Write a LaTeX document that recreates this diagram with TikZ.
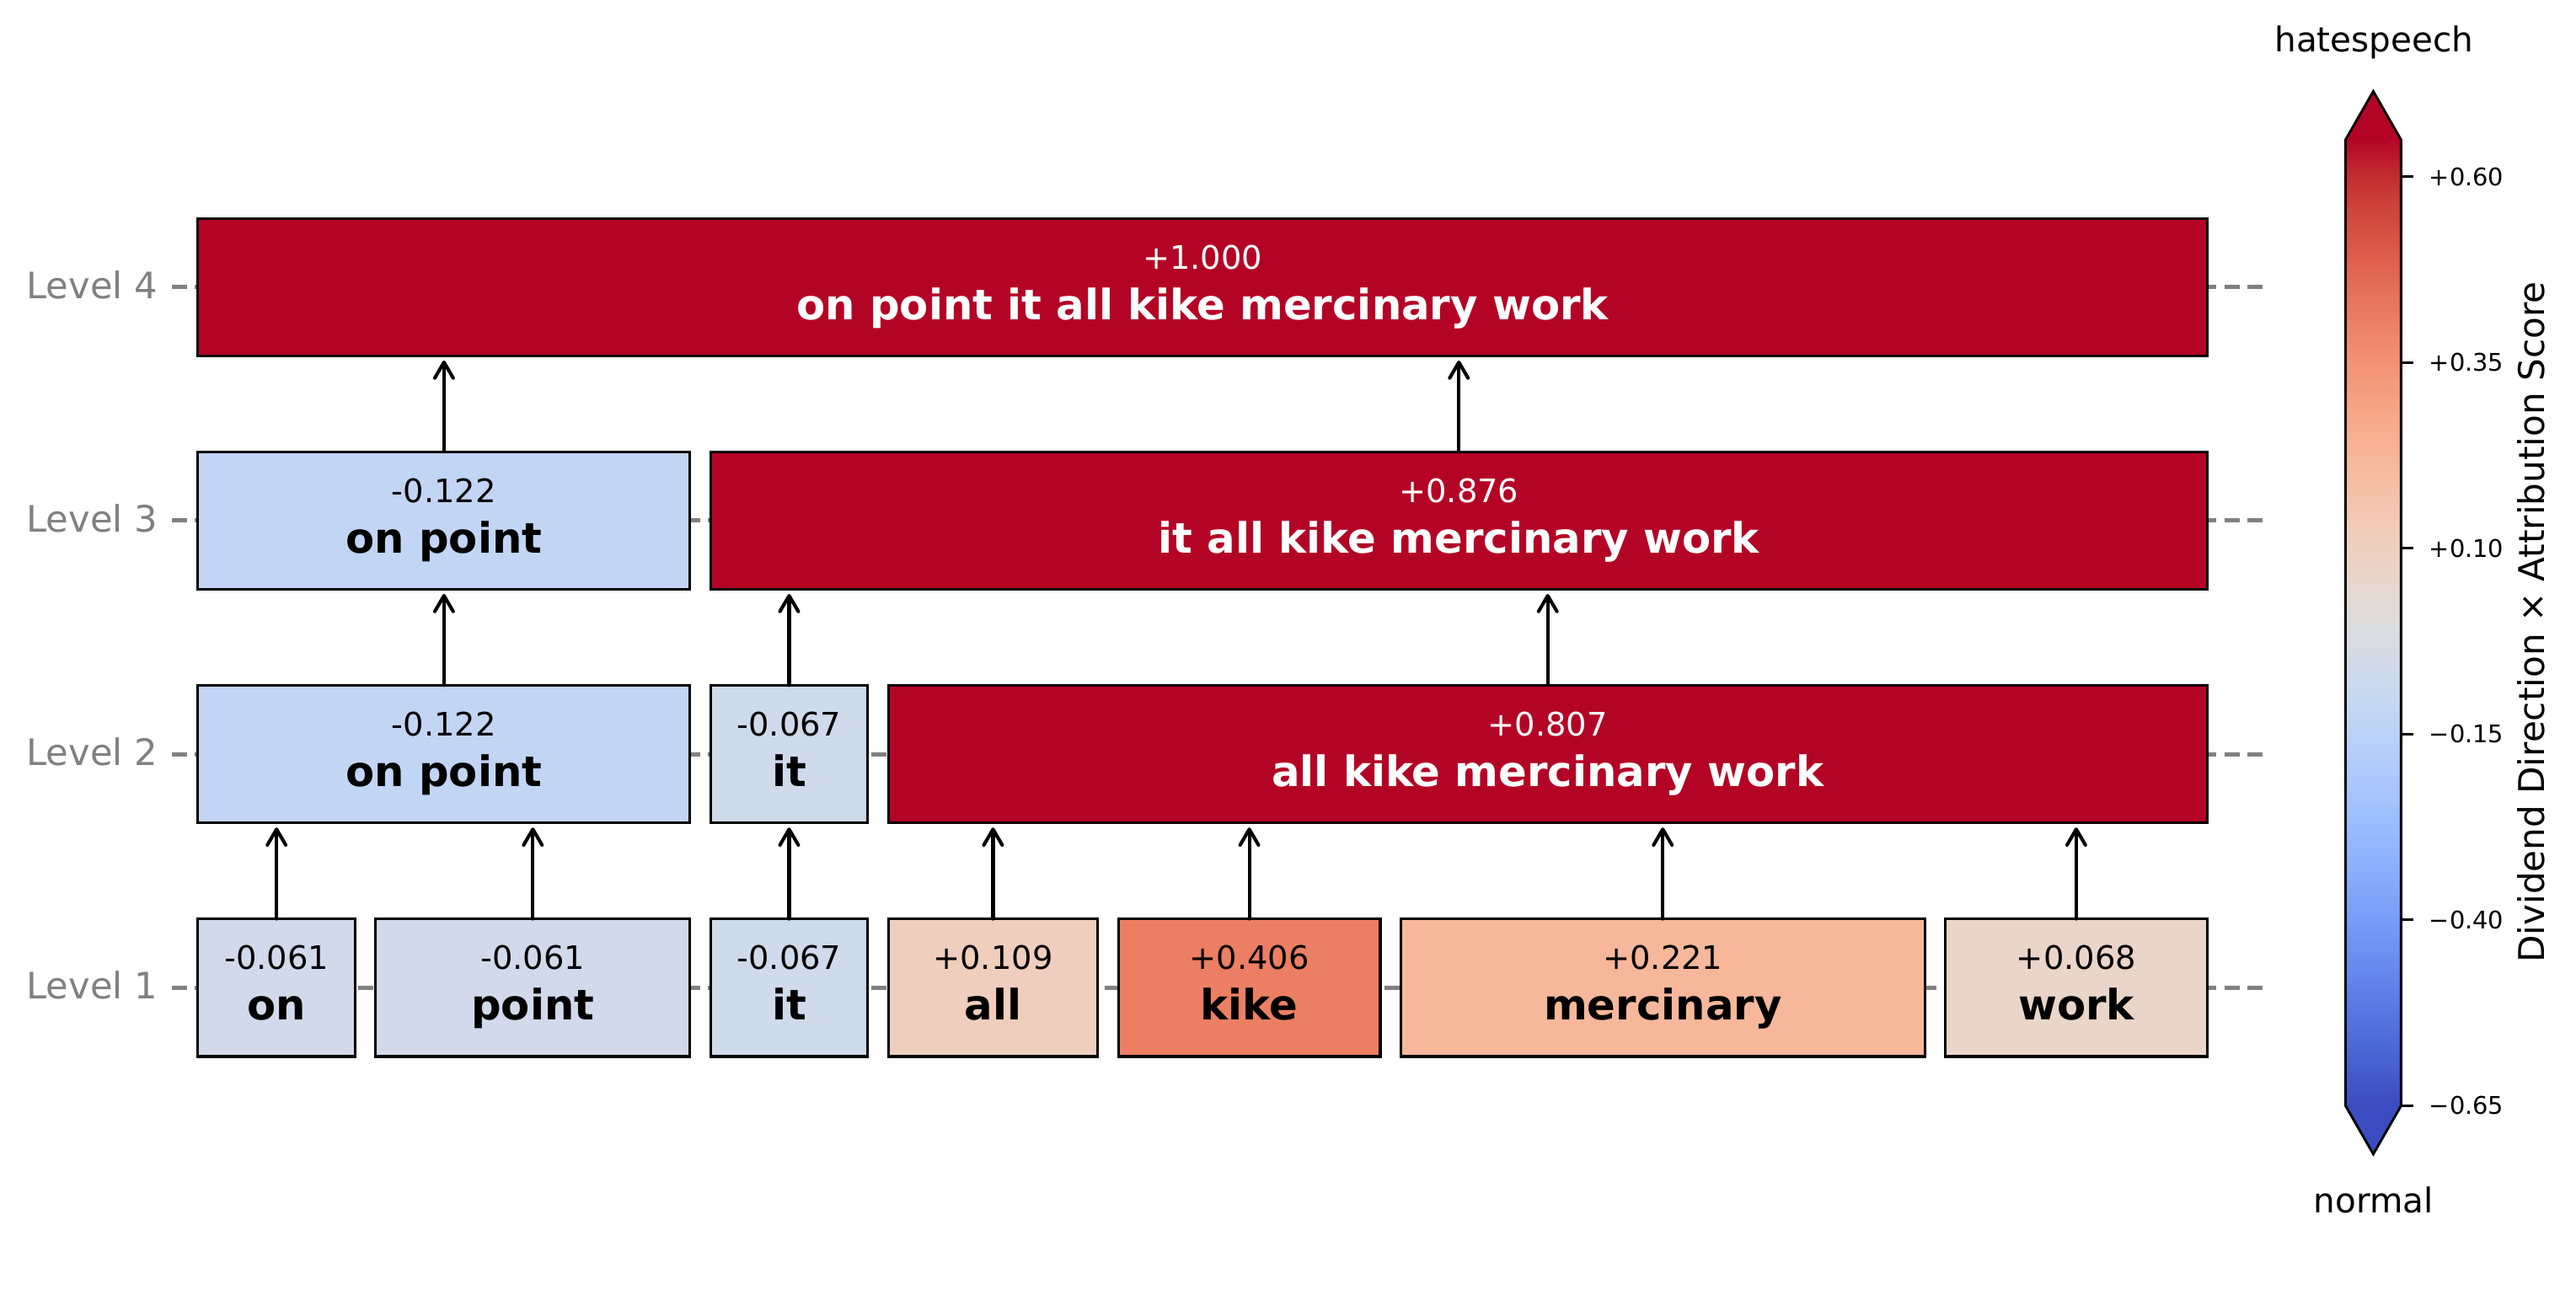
\documentclass[tikz,border=0pt]{standalone}
\usepackage{fontspec}
\setmainfont{DejaVu Sans}
\usetikzlibrary{arrows.meta,calc}

\definecolor{cred}{RGB}{180,4,38}
\definecolor{cA}{RGB}{208,218,234}
\definecolor{cB}{RGB}{207,218,235}
\definecolor{cC}{RGB}{194,213,244}
\definecolor{cD}{RGB}{239,206,189}
\definecolor{cE}{RGB}{236,127,99}
\definecolor{cF}{RGB}{247,183,155}
\definecolor{cG}{RGB}{234,213,201}
\definecolor{lvgray}{RGB}{128,128,128}
\definecolor{lngray}{RGB}{128,128,128}

\definecolor{cw0}{RGB}{59,76,192}
\definecolor{cw1}{RGB}{68,90,204}
\definecolor{cw2}{RGB}{77,104,215}
\definecolor{cw3}{RGB}{87,117,225}
\definecolor{cw4}{RGB}{98,130,234}
\definecolor{cw5}{RGB}{108,142,241}
\definecolor{cw6}{RGB}{119,154,247}
\definecolor{cw7}{RGB}{130,165,251}
\definecolor{cw8}{RGB}{141,176,254}
\definecolor{cw9}{RGB}{152,185,255}
\definecolor{cw10}{RGB}{163,194,255}
\definecolor{cw11}{RGB}{174,201,253}
\definecolor{cw12}{RGB}{184,208,249}
\definecolor{cw13}{RGB}{194,213,244}
\definecolor{cw14}{RGB}{204,217,238}
\definecolor{cw15}{RGB}{213,219,230}
\definecolor{cw16}{RGB}{221,221,221}
\definecolor{cw17}{RGB}{229,216,209}
\definecolor{cw18}{RGB}{236,211,197}
\definecolor{cw19}{RGB}{241,204,185}
\definecolor{cw20}{RGB}{245,196,173}
\definecolor{cw21}{RGB}{247,187,160}
\definecolor{cw22}{RGB}{247,177,148}
\definecolor{cw23}{RGB}{247,166,135}
\definecolor{cw24}{RGB}{244,154,123}
\definecolor{cw25}{RGB}{241,141,111}
\definecolor{cw26}{RGB}{236,127,99}
\definecolor{cw27}{RGB}{229,112,88}
\definecolor{cw28}{RGB}{222,96,77}
\definecolor{cw29}{RGB}{213,80,66}
\definecolor{cw30}{RGB}{203,62,56}
\definecolor{cw31}{RGB}{192,40,47}
\definecolor{cw32}{RGB}{180,4,38}

\newcommand{\tokbox}[8]{%
  \node[tok, fill=#5, minimum width={(#3-#2)*0.5pt}] (#1) at ({(#2+#3)/2},#4) {};
  \node[valtxt, text=#6] (#1-v) at ({(#2+#3)/2},{#4-11}) {#7};
  \node[wordtxt, text=#6] (#1-w) at ({(#2+#3)/2},{#4+19.8}) {#8};
}
\newcommand{\uparr}[2]{%
  \draw[arr] (#1.north) -- ($(#1.north |- #2.south)+(0,2.8)$);
}

\begin{document}
\begin{tikzpicture}[x=0.5pt,y=-0.5pt,
  tok/.style={draw=black, line width=0.8pt, inner sep=0pt, outer sep=0pt, minimum height=41.9pt},
  valtxt/.style={inner sep=0pt, anchor=base, font=\fontsize{9.85pt}{12pt}\selectfont},
  wordtxt/.style={inner sep=0pt, anchor=base, font=\fontsize{12.75pt}{15pt}\selectfont\bfseries},
  lvl/.style={inner sep=0pt, anchor=base east, text=lvgray, font=\fontsize{11.1pt}{13pt}\selectfont},
  lvline/.style={draw=lngray, line width=1.25pt, dash pattern=on 4.7pt off 2.4pt},
  arr/.style={draw=black, line width=1.05pt, line cap=round,
    -{Straight Barb[length=4.8pt, width=5.6pt, line cap=round, line join=round]}},
  ticklab/.style={inner sep=0pt, anchor=west, font=\fontsize{7.4pt}{9pt}\selectfont},
  cbtxt/.style={inner sep=0pt, anchor=base, font=\fontsize{10.4pt}{12pt}\selectfont},
]
\useasboundingbox (0,0) rectangle (1568,800.67);

% level guide lines
\foreach \yy in {174.8,316.9,459.1,601.3}
  \draw[lvline] (104.4,\yy) -- (1377.3,\yy);

% level labels
\node[lvl] (lv4) at (96.4,181.8) {Level 4};
\node[lvl] (lv3) at (96.4,323.9) {Level 3};
\node[lvl] (lv2) at (96.4,466.1) {Level 2};
\node[lvl] (lv1) at (96.4,608.3) {Level 1};

% level 1
\tokbox{on}{120.5}{216.17}{601.3}{cA}{black}{-0.061}{on}
\tokbox{point}{228.67}{420.0}{601.3}{cA}{black}{-0.061}{point}
\tokbox{itA}{432.5}{528.17}{601.3}{cB}{black}{-0.067}{it}
\tokbox{all}{540.67}{668.22}{601.3}{cD}{black}{+0.109}{all}
\tokbox{kike}{680.72}{840.17}{601.3}{cE}{black}{+0.406}{kike}
\tokbox{merc}{852.67}{1171.56}{601.3}{cF}{black}{+0.221}{mercinary}
\tokbox{work}{1184.06}{1343.5}{601.3}{cG}{black}{+0.068}{work}

% level 2
\tokbox{opB}{120.5}{420.0}{459.1}{cC}{black}{-0.122}{on point}
\tokbox{itB}{432.5}{528.17}{459.1}{cB}{black}{-0.067}{it}
\tokbox{akmwB}{540.67}{1343.5}{459.1}{cred}{white}{+0.807}{all kike mercinary work}

% level 3
\tokbox{opC}{120.5}{420.0}{316.9}{cC}{black}{-0.122}{on point}
\tokbox{iakmwC}{432.5}{1343.5}{316.9}{cred}{white}{+0.876}{it all kike mercinary work}

% level 4
\tokbox{rootD}{120.5}{1343.5}{174.8}{cred}{white}{+1.000}{on point it all kike mercinary work}

% arrows
\uparr{on}{opB}
\uparr{point}{opB}
\uparr{itA}{itB}
\uparr{all}{akmwB}
\uparr{kike}{akmwB}
\uparr{merc}{akmwB}
\uparr{work}{akmwB}
\uparr{opB}{opC}
\uparr{itB}{iakmwC}
\uparr{akmwB}{iakmwC}
\uparr{opC}{rootD}
\uparr{iakmwC}{rootD}

% colorbar
\foreach \k in {0,...,31}{
  \pgfmathtruncatemacro\kk{\k+1}
  \shade[bottom color=cw\k, top color=cw\kk]
    (1427.7,{673.2-18.378*\k+0.4}) rectangle (1461.5,{673.2-18.378*\kk-0.4});
}
\fill[cred] (1427.7,85.6) -- (1444.6,55.6) -- (1461.5,85.6) -- cycle;
\fill[cw0] (1427.7,672.7) -- (1444.6,702.6) -- (1461.5,672.7) -- cycle;
\draw[line width=0.75pt, line join=miter] (1427.7,85.1) -- (1444.6,55.6) -- (1461.5,85.1)
  -- (1461.5,673.2) -- (1444.6,702.6) -- (1427.7,673.2) -- cycle;

\foreach \v/\lab in {0.60/{+0.60},0.35/{+0.35},0.10/{+0.10},-0.15/{−0.15},-0.40/{−0.40},-0.65/{−0.65}}{
  \pgfmathsetmacro\ty{85.1+(0.65-\v)/1.3*588.1}
  \draw[line width=0.75pt] (1461.5,\ty) -- (1469.2,\ty);
  \node[ticklab] at (1478.3,\ty) {\lab};
}

\node[cbtxt] (hs) at (1445.1,31.6) {hatespeech};
\node[cbtxt] (nm) at (1444.9,738.5) {normal};
\node[inner sep=0pt, anchor=base, rotate=90, font=\fontsize{10.8pt}{13pt}\selectfont] (cblab) at (1548.7,378.9)
  {Dividend Direction × Attribution Score};
\end{tikzpicture}
\end{document}
